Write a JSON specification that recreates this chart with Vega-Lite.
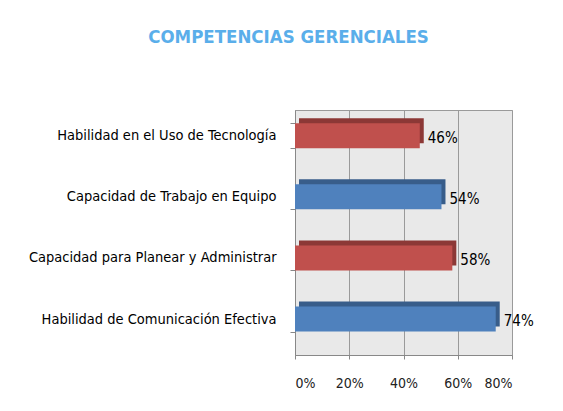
{
  "$schema": "https://vega.github.io/schema/vega-lite/v6.json",
  "width": 217,
  "height": 245,
  "autosize": "none",
  "padding": {"left": 295, "top": 110, "right": 51, "bottom": 56},
  "background": "white",
  "title": {
    "text": "COMPETENCIAS GERENCIALES",
    "font": "DejaVu Sans Condensed",
    "fontSize": 18.5,
    "fontWeight": "bold",
    "color": "#5aaeea",
    "anchor": "middle",
    "dx": -115,
    "offset": 56
  },
  "data": {
    "values": [
      {"competencia": "Habilidad en el Uso de Tecnología", "valor": 0.46, "grupo": "r"},
      {"competencia": "Capacidad de Trabajo en Equipo", "valor": 0.54, "grupo": "b"},
      {"competencia": "Capacidad para Planear y Administrar", "valor": 0.58, "grupo": "r"},
      {"competencia": "Habilidad de Comunicación Efectiva", "valor": 0.74, "grupo": "b"}
    ]
  },
  "config": {
    "view": {"fill": "#e9e9e9", "stroke": "#9a9a9a", "strokeWidth": 1},
    "font": "DejaVu Sans Condensed"
  },
  "encoding": {
    "y": {
      "field": "competencia",
      "type": "nominal",
      "sort": null,
      "scale": {"paddingInner": 0.59, "paddingOuter": 0.3, "align": 0.36},
      "axis": {
        "title": null,
        "labelFontSize": 14.5,
        "labelColor": "#000000",
        "labelPadding": 14,
        "ticks": true,
        "tickBand": "extent",
        "tickColor": "#888888",
        "domainColor": "#888888",
        "labelLimit": 300
      }
    }
  },
  "layer": [
    {
      "mark": {"type": "bar", "xOffset": 4, "yOffset": -5, "x": 4},
      "encoding": {
        "x": {"field": "valor", "type": "quantitative"},
        "color": {
          "field": "grupo",
          "type": "nominal",
          "scale": {"domain": ["r", "b"], "range": ["#8c3836", "#385d8a"]},
          "legend": null
        }
      }
    },
    {
      "mark": {"type": "bar", "x": 4},
      "encoding": {
        "x": {
          "field": "valor",
          "type": "quantitative",
          "scale": {"domain": [0, 0.8]},
          "axis": {
            "title": null,
            "format": ".0%",
            "values": [0, 0.2, 0.4, 0.6, 0.8],
            "labelFontSize": 14,
            "labelColor": "#222222",
            "labelPadding": 17,
            "tickColor": "#888888",
            "tickSize": 4,
            "domainColor": "#888888",
            "grid": true,
            "gridColor": "#9a9a9a",
            "gridWidth": 1
          }
        },
        "color": {
          "field": "grupo",
          "type": "nominal",
          "scale": {"domain": ["r", "b"], "range": ["#c0504d", "#4f81bd"]},
          "legend": null
        }
      }
    },
    {
      "mark": {"type": "text", "align": "left", "dx": 8, "dy": 2, "fontSize": 15, "color": "#000000"},
      "encoding": {
        "x": {"field": "valor", "type": "quantitative"},
        "text": {"field": "valor", "type": "quantitative", "format": ".0%"}
      }
    }
  ],
  "resolve": {"scale": {"color": "independent"}}
}
